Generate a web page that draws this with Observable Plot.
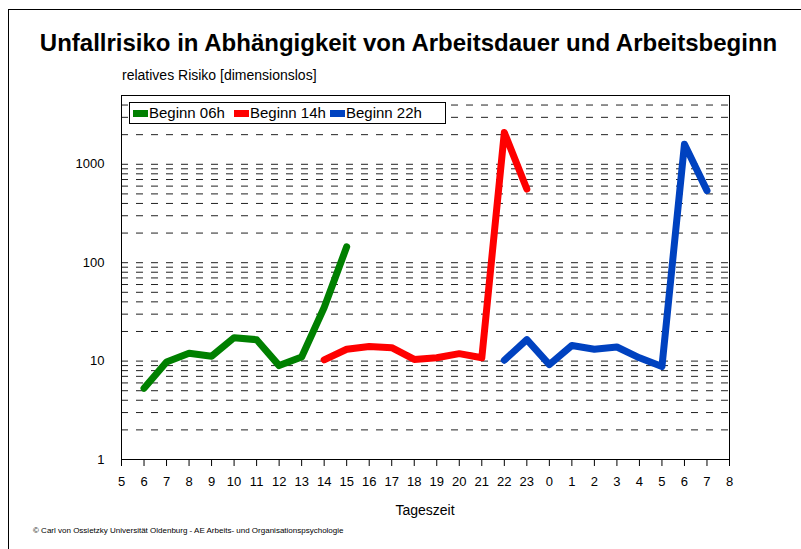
<!DOCTYPE html>
<html>
<head>
<meta charset="utf-8">
<script src="https://cdn.jsdelivr.net/npm/d3@7"></script>
<script src="https://cdn.jsdelivr.net/npm/@observablehq/plot@0.6"></script>
<style>
  html, body { margin: 0; padding: 0; background: #fff; }
  body { width: 801px; height: 549px; overflow: hidden; font-family: "Liberation Sans", Arial, sans-serif; }
  #wrap { position: relative; width: 801px; height: 549px; }
  #border { position: absolute; left: 8px; top: 9px; width: 900px; height: 700px; border-left: 1px solid #000; border-top: 1px solid #000; }
  #title { position: absolute; left: 8px; width: 801px; top: 29px; text-align: center; font-weight: bold; font-size: 24px; color: #000; white-space: nowrap; }
  #ylab { position: absolute; left: 122px; top: 67px; font-size: 14px; color: #000; }
  #xlab { position: absolute; left: 121px; width: 608px; top: 502px; text-align: center; font-size: 14px; color: #000; }
  #copy { position: absolute; left: 33px; top: 526px; font-size: 8px; color: #000; white-space: nowrap; }
  #legend { position: absolute; left: 129px; top: 102px; width: 315px; height: 20px; border: 1px solid #000; background: #fff; font-size: 15px; }
  .item { position: absolute; top: 0; height: 20px; line-height: 20px; white-space: nowrap; }
  .sw { display: inline-block; width: 15px; height: 7px; vertical-align: middle; margin-right: 1px; position: relative; top: -1px; }
  svg { position: absolute; left: 0; top: 0; }
</style>
</head>
<body>
<div id="wrap">
  <div id="chart"></div>
  <div id="border"></div>
  <div id="title">Unfallrisiko in Abhängigkeit von Arbeitsdauer und Arbeitsbeginn</div>
  <div id="ylab">relatives Risiko [dimensionslos]</div>
  <div id="xlab">Tageszeit</div>
  <div id="copy">© Carl von Ossietzky Universität Oldenburg - AE Arbeits- und Organisationspsychologie</div>
  <div id="legend"></div>
</div>
<script>
// x-axis tick labels (hour of day), one per position
const xLabels = [5,6,7,8,9,10,11,12,13,14,15,16,17,18,19,20,21,22,23,0,1,2,3,4,5,6,7,8];

// series names, colours, start positions (index into xLabels)
const seriesNames = ["Beginn 06h", "Beginn 14h", "Beginn 22h"];
const seriesColors = ["#008000", "#ff0000", "#0042c0"];
const seriesStart = [1, 9, 17];

// relative risk values, hourly from start
const begin06 = [5.3, 9.8, 12.0, 11.2, 17.3, 16.5, 9.0, 11.0, 35, 145];
const begin14 = [10.3, 13.2, 14.1, 13.7, 10.4, 10.8, 11.9, 10.8, 2100, 560];
const begin22 = [10.2, 16.5, 9.2, 14.4, 13.2, 13.9, 10.8, 8.8, 1600, 540];

// y ticks and grid
const yTicks = [1, 10, 100, 1000];
const yDomain = [1, 5000];
const gridMultipliers = [1,2,3,4,5,6,7,8,9];
const gridDecades = [1, 10, 100, 1000];

const seriesValues = [begin06, begin14, begin22];
const data = [];
seriesValues.forEach((vals, s) => {
  vals.forEach((v, i) => data.push({series: seriesNames[s], pos: seriesStart[s] + i, value: v}));
});
const gridValues = [];
gridDecades.forEach(d => gridMultipliers.forEach(m => { const v = d * m; if (v <= yDomain[1]) gridValues.push(v); }));

const chart = Plot.plot({
  width: 801,
  height: 549,
  marginLeft: 121,
  marginRight: 72,
  marginTop: 95,
  marginBottom: 90,
  style: {fontFamily: "'Liberation Sans', Arial, sans-serif", fontSize: "13px", color: "#000", background: "transparent", overflow: "visible"},
  x: {type: "linear", domain: [0, xLabels.length - 1], ticks: d3.range(xLabels.length), tickFormat: i => String(xLabels[i]), tickSize: 7, tickPadding: 10, label: null},
  y: {type: "log", domain: yDomain, ticks: yTicks, tickFormat: d => String(d), tickSize: 0, tickPadding: 17, label: null},
  color: {domain: seriesNames, range: seriesColors},
  marks: [
    Plot.ruleY(gridValues, {stroke: "#222", strokeWidth: 1, strokeDasharray: "7,8"}),
    Plot.frame({stroke: "#000", strokeWidth: 1}),
    Plot.line(data, {x: "pos", y: "value", z: "series", stroke: "series", strokeWidth: 7, strokeLinecap: "round", strokeLinejoin: "round"})
  ]
});
document.getElementById("chart").appendChild(chart);

// legend
const legend = document.getElementById("legend");
const legendLeft = [3, 104, 200];
seriesNames.forEach((name, i) => {
  const item = document.createElement("div");
  item.className = "item";
  item.style.left = legendLeft[i] + "px";
  const sw = document.createElement("span");
  sw.className = "sw";
  sw.style.background = seriesColors[i];
  item.appendChild(sw);
  item.appendChild(document.createTextNode(name));
  legend.appendChild(item);
});
</script>
</body>
</html>
